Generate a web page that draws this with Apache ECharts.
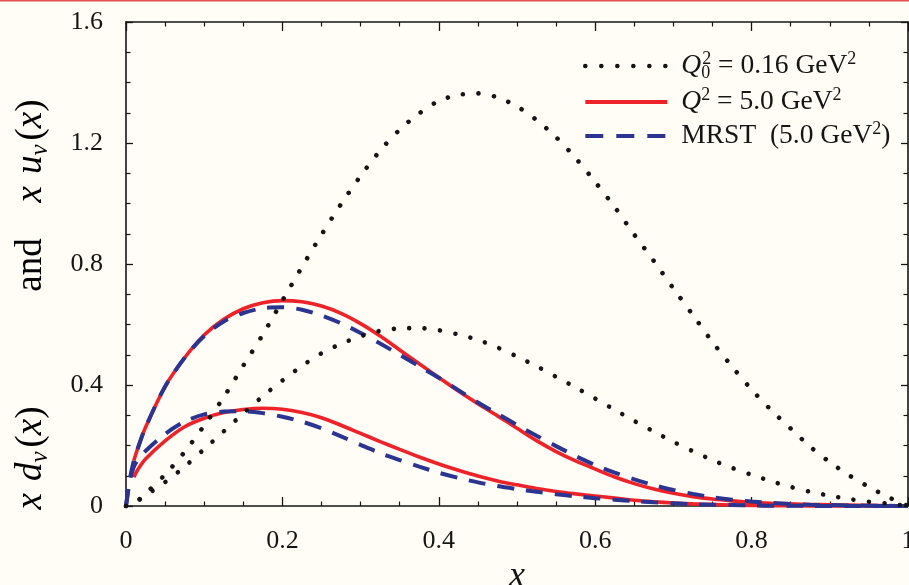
<!DOCTYPE html>
<html>
<head>
<meta charset="utf-8">
<script src="https://cdn.jsdelivr.net/npm/echarts@6/dist/echarts.min.js"></script>
<style>
  html, body { margin: 0; padding: 0; background: #fffdf6; }
  #chart { width: 909px; height: 585px; }
</style>
</head>
<body>
<div id="chart"></div>
<script>
// Momentum fraction grid shared by all curves
const xs = [0, 0.005, 0.01, 0.015, 0.025, 0.05, 0.075, 0.1, 0.125, 0.15, 0.175, 0.2, 0.225, 0.25, 0.275, 0.3,
  0.325, 0.35, 0.375, 0.4, 0.425, 0.45, 0.475, 0.5, 0.525, 0.55, 0.575, 0.6, 0.625, 0.65, 0.675, 0.7,
  0.725, 0.75, 0.775, 0.8, 0.825, 0.85, 0.875, 0.9, 0.925, 0.95, 0.975, 1.0];

// x u_v and x d_v at the input scale Q0^2 = 0.16 GeV^2
const uvInitial = [0, 0.003, 0.009, 0.017, 0.041, 0.104, 0.179, 0.266, 0.360, 0.464, 0.567, 0.679, 0.790, 0.897, 0.998, 1.091,
  1.175, 1.244, 1.298, 1.339, 1.359, 1.364, 1.351, 1.321, 1.276, 1.219, 1.150, 1.071, 0.988, 0.897, 0.810, 0.719,
  0.631, 0.542, 0.461, 0.385, 0.317, 0.256, 0.196, 0.145, 0.101, 0.063, 0.029, 0];
const dvInitial = [0, 0.003, 0.009, 0.017, 0.035, 0.079, 0.130, 0.188, 0.247, 0.306, 0.363, 0.415, 0.463, 0.505, 0.536, 0.561,
  0.579, 0.587, 0.588, 0.581, 0.567, 0.549, 0.524, 0.494, 0.462, 0.427, 0.392, 0.355, 0.318, 0.281, 0.246, 0.212,
  0.181, 0.152, 0.126, 0.103, 0.082, 0.063, 0.047, 0.034, 0.023, 0.014, 0.008, 0];

// Evolved to Q^2 = 5.0 GeV^2
const uvEvolved = [null, null, 0.150, 0.190, 0.260, 0.395, 0.490, 0.565, 0.617, 0.652, 0.672, 0.679, 0.675, 0.661, 0.637, 0.603,
  0.562, 0.516, 0.470, 0.425, 0.380, 0.338, 0.298, 0.257, 0.216, 0.180, 0.149, 0.122, 0.096, 0.074, 0.056, 0.042,
  0.031, 0.023, 0.017, 0.012, 0.009, 0.007, 0.005, 0.004, 0.003, 0.002, 0.001, 0];
const dvEvolved = [null, null, 0.095, 0.120, 0.155, 0.215, 0.262, 0.290, 0.309, 0.319, 0.323, 0.320, 0.309, 0.292, 0.267, 0.240,
  0.213, 0.187, 0.162, 0.139, 0.118, 0.099, 0.083, 0.070, 0.058, 0.048, 0.040, 0.033, 0.026, 0.019, 0.014, 0.010,
  0.007, 0.005, 0.003, 0.002, 0.001, 0.001, 0.0005, 0, 0, 0, 0, 0];

// MRST parametrisation at 5.0 GeV^2
const uvMrst = [0, 0.090, 0.150, 0.190, 0.260, 0.395, 0.490, 0.562, 0.610, 0.638, 0.654, 0.657, 0.649, 0.630, 0.604, 0.572,
  0.537, 0.500, 0.462, 0.424, 0.383, 0.342, 0.305, 0.268, 0.232, 0.198, 0.165, 0.135, 0.110, 0.088, 0.069, 0.053,
  0.040, 0.029, 0.021, 0.015, 0.010, 0.007, 0.004, 0.003, 0.002, 0.001, 0.0005, 0];
const dvMrst = [0, 0.085, 0.130, 0.152, 0.182, 0.238, 0.279, 0.303, 0.312, 0.313, 0.307, 0.295, 0.279, 0.257, 0.230, 0.202,
  0.175, 0.152, 0.130, 0.110, 0.093, 0.078, 0.066, 0.056, 0.047, 0.039, 0.032, 0.026, 0.021, 0.016, 0.012, 0.009,
  0.006, 0.004, 0.003, 0.002, 0.001, 0.001, 0.0005, 0, 0, 0, 0, 0];

// Axis ranges and label steps
const xRange = [0, 1];
const xStep = 0.2;
const yRange = [0, 1.6];
const yStep = 0.4;

const SERIF = "'Liberation Serif', 'DejaVu Serif', serif";
const INK = '#151515';
const RED = '#ee2229';
const BLUE = '#2b3491';

function pairs(values) {
  const out = [];
  xs.forEach((x, i) => { if (values[i] !== null) out.push([x, values[i]]); });
  return out;
}

const dotted = { type: [0.01, 15.5], cap: 'round', width: 4.6, color: INK };
const solid = { type: 'solid', width: 3.6, color: RED };
const dashed = { type: [17, 12], width: 4, color: BLUE };

function curve(name, values, lineStyle, z) {
  return {
    name, type: 'line', data: pairs(values), symbol: 'none', smooth: 0.3,
    clip: false, lineStyle, color: lineStyle.color, z, animation: false
  };
}

const axisLine = { show: true, onZero: false, lineStyle: { color: INK, width: 1.6 } };
function xAxisDef(pos, labels) {
  return {
    type: 'value', position: pos, min: xRange[0], max: xRange[1], interval: xStep,
    axisLine, splitLine: { show: false },
    axisTick: { inside: true, length: 9, lineStyle: { color: INK, width: 1.3 } },
    minorTick: { show: true, splitNumber: 4, length: 4.5, lineStyle: { color: INK, width: 1.2 } },
    axisLabel: labels ? { show: true, margin: 22, fontFamily: SERIF, fontSize: 26, color: INK } : { show: false },
    name: labels ? 'x' : '', nameLocation: 'middle', nameGap: 42,
    nameTextStyle: { fontFamily: SERIF, fontStyle: 'italic', fontSize: 36, color: INK }
  };
}
function yAxisDef(pos, labels) {
  return {
    type: 'value', position: pos, min: yRange[0], max: yRange[1], interval: yStep,
    axisLine, splitLine: { show: false },
    axisTick: { inside: true, length: 7, lineStyle: { color: INK, width: 1.3 } },
    minorTick: { show: true, splitNumber: 4, length: 4.5, lineStyle: { color: INK, width: 1.2 } },
    axisLabel: labels ? { show: true, margin: 23, fontFamily: SERIF, fontSize: 26, color: INK } : { show: false }
  };
}

const mathRich = {
  r: { fontFamily: SERIF, fontSize: 27.5, color: INK, lineHeight: 32 },
  i: { fontFamily: SERIF, fontStyle: 'italic', fontSize: 27.5, color: INK, lineHeight: 32 },
  sup: { fontFamily: SERIF, fontSize: 18, color: INK, verticalAlign: 'top', lineHeight: 18 },
  sub: { fontFamily: SERIF, fontSize: 18, color: INK, verticalAlign: 'bottom', lineHeight: 18, width: 1, align: 'left' },
  gap: { width: 9 }
};
const legendLabels = {
  initial: '{gap|}{i|Q}{sub|0}{sup|2}{r| = 0.16 GeV}{sup|2}',
  evolved: '{gap|}{i|Q}{sup|2}{r| = 5.0 GeV}{sup|2}',
  mrst: '{gap|}{r|MRST  (5.0 GeV}{sup|2}{r|)}'
};
const hiddenMarker = { color: 'rgba(0,0,0,0)', borderWidth: 0, opacity: 0 };

// Rotated axis title pieces: x d_v(x)   and   x u_v(x)
const titleRich = {
  r: { fontFamily: SERIF, fontSize: 37, color: INK, lineHeight: 44 },
  i: { fontFamily: SERIF, fontStyle: 'italic', fontSize: 37, color: INK, lineHeight: 44 },
  sub: { fontFamily: SERIF, fontStyle: 'italic', fontSize: 25, color: INK, verticalAlign: 'bottom', lineHeight: 25 },
  sp: { width: 12 },
  sp2: { width: 4 }
};
function titlePiece(text, centerY) {
  return {
    type: 'text', x: 31, y: centerY, rotation: Math.PI / 2, silent: true,
    style: { text, rich: titleRich, align: 'center', verticalAlign: 'middle' }
  };
}

const chart = echarts.init(document.getElementById('chart'), null, { renderer: 'canvas' });
chart.setOption({
  backgroundColor: '#fffdf6',
  animation: false,
  grid: { left: 126, right: 1, top: 22, bottom: 79, outerBoundsMode: 'none', containLabel: false },
  xAxis: [xAxisDef('bottom', true), xAxisDef('top', false)],
  yAxis: [yAxisDef('left', true), yAxisDef('right', false)],
  legend: {
    orient: 'vertical', left: 578, top: 45, itemGap: 4,
    itemWidth: 82, itemHeight: 20,
    selectedMode: false,
    data: [
      { name: 'initial', itemStyle: hiddenMarker, lineStyle: { type: [0.01, 16], cap: 'round', width: 4.6, color: INK } },
      { name: 'evolved', itemStyle: hiddenMarker, lineStyle: { type: 'solid', width: 4, color: RED } },
      { name: 'mrst', itemStyle: hiddenMarker, lineStyle: { type: [18, 13], width: 4, color: BLUE } }
    ],
    formatter: name => legendLabels[name],
    textStyle: { rich: mathRich }
  },
  series: [
    curve('evolved', uvEvolved, solid, 2),
    curve('evolved', dvEvolved, solid, 2),
    curve('mrst', uvMrst, dashed, 3),
    curve('mrst', dvMrst, dashed, 3),
    curve('initial', uvInitial, dotted, 4),
    curve('initial', dvInitial, dotted, 4)
  ],
  graphic: [
    { type: 'rect', left: 0, top: 0, shape: { width: 909, height: 1.5 }, style: { fill: '#e3504f' }, silent: true },
    titlePiece('{i|x}{sp|}{i|d}{sub|v}{sp2|}{r|(}{i|x}{r|)}', 458),
    titlePiece('{r|and}', 265),
    titlePiece('{i|x}{sp|}{i|u}{sub|v}{sp2|}{r|(}{i|x}{r|)}', 151)
  ]
});
</script>
</body>
</html>
